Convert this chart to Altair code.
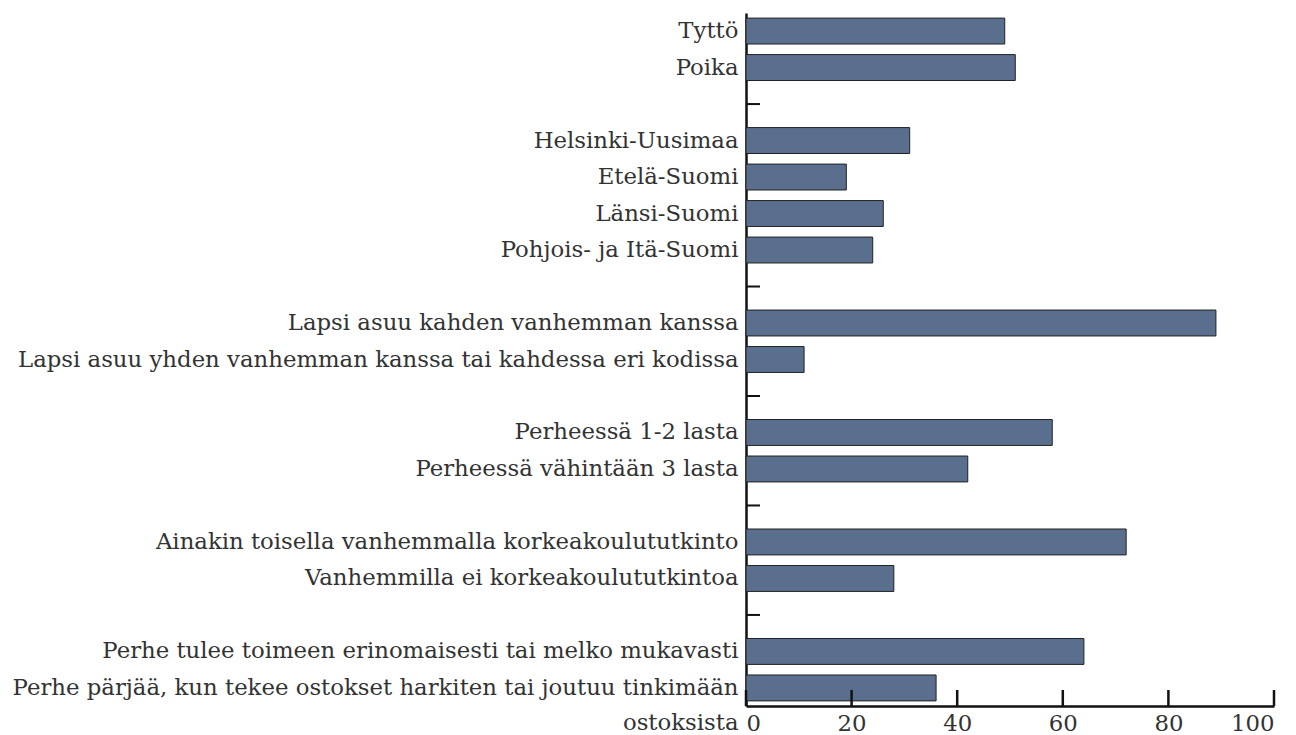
import altair as alt
import pandas as pd

categories = [
    "Tyttö", "Poika", " ",
    "Helsinki-Uusimaa", "Etelä-Suomi", "Länsi-Suomi", "Pohjois- ja Itä-Suomi", "  ",
    "Lapsi asuu kahden vanhemman kanssa",
    "Lapsi asuu yhden vanhemman kanssa tai kahdessa eri kodissa", "   ",
    "Perheessä 1-2 lasta", "Perheessä vähintään 3 lasta", "    ",
    "Ainakin toisella vanhemmalla korkeakoulututkinto",
    "Vanhemmilla ei korkeakoulututkintoa", "     ",
    "Perhe tulee toimeen erinomaisesti tai melko mukavasti",
    "Perhe pärjää, kun tekee ostokset harkiten tai joutuu tinkimään\nostoksista",
]
values = [49, 51, None, 31, 19, 26, 24, None, 89, 11, None, 58, 42, None,
          72, 28, None, 64, 36]
x_ticks = [0, 20, 40, 60, 80, 100]

W, H = 528, 693
FONT = "DejaVu Serif"
TXT = "#333333"
FS = 22.8

df = pd.DataFrame({"cat": categories, "val": values})
bars_df = df.dropna()
blank_df = df[df["val"].isna()]
ticks_df = pd.DataFrame({"t": x_ticks})

yscale = alt.Scale(domain=categories, paddingInner=0.29, paddingOuter=0.14)
xscale = alt.Scale(domain=[0, 100])

bars = alt.Chart(bars_df).mark_bar(
    color="#5a6f8d", stroke="#222222", strokeWidth=1
).encode(
    x=alt.X("val:Q", scale=xscale, axis=alt.Axis(
        values=x_ticks, title=None, ticks=False, grid=False,
        domainColor="#111111", domainWidth=2.5,
        labelFont=FONT, labelFontSize=FS, labelColor=TXT, labelPadding=6,
    )),
    y=alt.Y("cat:N", scale=yscale, sort=None, axis=alt.Axis(
        title=None, ticks=False, grid=False,
        domainColor="#111111", domainWidth=2.5,
        labelFont=FONT, labelFontSize=FS, labelColor=TXT, labelPadding=8,
        labelLimit=1000, labelLineHeight=35,
        labelExpr="split(datum.label, '\\n')",
    )),
)

yticks = alt.Chart(blank_df).mark_rule(color="#111111", strokeWidth=2).encode(
    y=alt.Y("cat:N", scale=yscale, sort=None),
    x=alt.value(0), x2=alt.value(14),
)

xticks = alt.Chart(ticks_df).mark_rule(color="#111111", strokeWidth=2.5).encode(
    x=alt.X("t:Q", scale=xscale),
    y=alt.value(H), y2=alt.value(H - 16),
)

chart = alt.layer(bars, yticks, xticks).properties(
    width=W, height=H,
    padding={"left": 738, "top": 5, "right": 6, "bottom": 29},
    autosize=alt.AutoSizeParams(type="none"),
).configure_view(stroke=None)

chart.save("out.html", embed_options={"renderer": "svg", "actions": False})
